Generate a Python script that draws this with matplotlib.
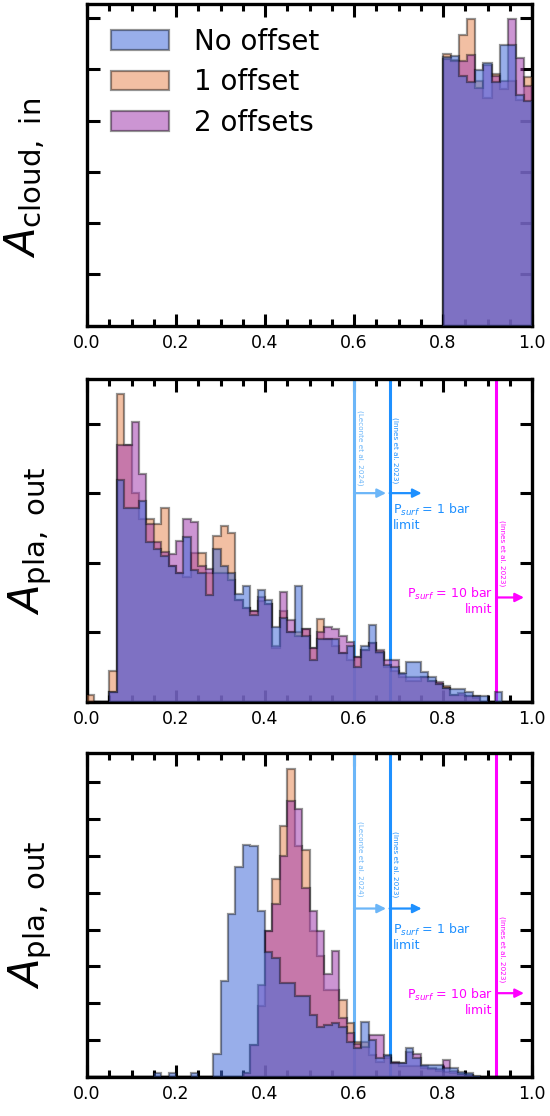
import numpy as np
import matplotlib
matplotlib.use("Agg")
import matplotlib.pyplot as plt
from matplotlib.patches import Patch
from matplotlib.colors import to_rgba

# ---------------- data ----------------
labels = ["No offset", "1 offset", "2 offsets"]

# A_cloud,in posterior (density), 11 bins over [0.8, 1.0]
cloud_edges = np.linspace(0.8, 1.0, 12)
cloud_no = [5.25, 5.27, 4.88, 4.75, 4.99, 5.12, 4.75, 5.48, 5.48, 4.51, 4.38]
cloud_one = [5.30, 5.19, 5.67, 5.98, 4.77, 4.44, 4.91, 4.61, 4.77, 4.41, 4.86]
cloud_two = [5.21, 5.16, 5.17, 5.28, 4.64, 5.09, 4.88, 4.77, 5.98, 5.23, 4.67]

# A_pla,out posteriors (density), 60 bins over [0, 1]
pla_edges = np.linspace(0.0, 1.0, 61)

pla1_no = [0, 0, 0, 0.14, 3.19, 2.79, 2.79, 2.89, 2.30, 2.20,
           2.10, 1.95, 1.85, 2.37, 1.90, 1.85, 1.54, 2.20, 1.95, 1.85,
           1.55, 1.67, 1.25, 1.61, 1.47, 1.08, 1.20, 1.00, 1.66, 0.95,
           0.60, 0.90, 0.90, 0.90, 0.70, 0.80, 0.50, 0.80, 1.10, 0.71,
           0.53, 0.50, 0.41, 0.57, 0.57, 0.43, 0.36, 0.25, 0.20, 0.19,
           0.19, 0.145, 0.08, 0.08, 0, 0.145, 0, 0, 0, 0]
pla1_one = [0.10, 0, 0, 0.44, 4.42, 3.69, 3.00, 2.63, 2.63, 2.55,
            2.78, 1.95, 1.85, 1.80, 2.14, 2.14, 1.85, 2.39, 2.53, 2.42,
            1.46, 1.35, 1.30, 1.45, 1.40, 0.77, 1.31, 1.00, 1.00, 1.05,
            0.77, 1.19, 0.90, 0.80, 0.70, 0.60, 0.65, 0.75, 0.85, 0.70,
            0.50, 0.45, 0.35, 0.30, 0.30, 0.35, 0.30, 0.25, 0.23, 0.10,
            0.10, 0.08, 0.05, 0, 0, 0, 0, 0, 0, 0]
pla1_two = [0, 0, 0, 0.14, 3.69, 3.69, 4.02, 3.28, 2.55, 2.30,
            2.15, 2.12, 2.31, 2.63, 2.58, 1.95, 1.91, 1.85, 1.85, 1.75,
            1.46, 1.35, 1.30, 1.50, 1.40, 0.80, 1.58, 1.17, 0.95, 1.05,
            0.77, 1.00, 1.07, 1.05, 0.95, 0.86, 0.65, 0.75, 0.85, 0.75,
            0.60, 0.60, 0.40, 0.35, 0.35, 0.35, 0.30, 0.29, 0.20, 0.10,
            0.12, 0.08, 0.08, 0, 0, 0, 0, 0, 0, 0]

pla2_no = [0, 0, 0, 0, 0, 0, 0, 0, 0, 0.10,
           0, 0.10, 0, 0, 0.10, 0, 0, 0.61, 2.59, 4.42,
           5.70, 6.31, 6.27, 4.50, 3.40, 3.23, 2.54, 2.54, 2.18, 2.18,
           1.68, 1.36, 1.40, 1.46, 1.36, 0.95, 0.77, 1.50, 1.00, 0.50,
           0.60, 0.36, 0.36, 0.77, 0.50, 0.32, 0.32, 0.32, 0.23, 0.23,
           0.13, 0.09, 0.03, 0, 0, 0, 0, 0, 0, 0]
pla2_one = [0, 0, 0, 0, 0, 0, 0, 0, 0, 0,
            0, 0, 0, 0, 0, 0, 0, 0, 0, 0,
            0, 0.10, 0.86, 1.93, 3.95, 5.36, 6.81, 8.37, 6.27, 6.17,
            3.95, 3.27, 2.36, 2.36, 2.09, 1.45, 0.95, 0.95, 0.60, 0.40,
            0.50, 0.36, 0.30, 0.30, 0.30, 0.25, 0.20, 0.15, 0.12, 0.10,
            0.08, 0.05, 0, 0, 0, 0, 0, 0, 0, 0]
pla2_two = [0, 0, 0, 0, 0, 0, 0, 0, 0, 0,
            0, 0, 0, 0, 0, 0, 0, 0, 0, 0,
            0, 0.10, 0.86, 2.50, 3.95, 4.68, 6.01, 7.49, 7.27, 5.13,
            4.50, 3.95, 2.80, 3.41, 1.60, 1.20, 0.90, 0.80, 1.14, 1.14,
            0.55, 0.40, 0.36, 0.68, 0.63, 0.30, 0.25, 0.20, 0.45, 0.15,
            0.08, 0.05, 0, 0, 0, 0, 0, 0, 0, 0]

# surface-pressure limits on A_pla,out
leconte_1bar = 0.60
innes_1bar = 0.68
innes_10bar = 0.92

# ---------------- style ----------------
face_alpha = 0.55
c_no = to_rgba("#446cd9", face_alpha)
c_one = to_rgba("#e98c58", face_alpha)
c_two = to_rgba("#a23eb0", face_alpha)
c_edge = (0.0, 0.0, 0.0, 0.42)
c_light = "#6cb6f8"
c_dodger = "dodgerblue"
c_mag = "#ff00ff"

fig = plt.figure(figsize=(5.5, 11.16), dpi=100)
W, H = 550.0, 1116.0
left, width = 87 / W, 445 / W
boxes = [(4, 325.5), (379, 701.8), (753.3, 1076.7)]
axes = [fig.add_axes([left, 1 - b / H, width, (b - t) / H]) for t, b in boxes]


def draw_hists(ax, edges, no, one, two):
    centers = edges[:-1]
    for vals, col in ((one, c_one), (two, c_two), (no, c_no)):
        ax.hist(centers, bins=edges, weights=vals, histtype="stepfilled",
                facecolor=col, edgecolor=c_edge, linewidth=1.6, zorder=3)


def style_axis(ax):
    ax.set_xlim(0, 1)
    ax.set_xticks(np.arange(0, 1.01, 0.2))
    ax.set_xticks(np.arange(0, 1.01, 0.05), minor=True)
    ax.tick_params(axis="both", which="major", direction="in", length=9,
                   width=2.2, top=True, right=True, labelsize=12.5, pad=6)
    ax.tick_params(axis="x", which="minor", direction="in", length=5,
                   width=2.2, top=True)
    ax.tick_params(axis="y", labelleft=False)
    for s in ax.spines.values():
        s.set_linewidth(2.4)


def limits(ax, y_arrow, y_text, y_mag, y_magtext, y_pl, y_mag_label):
    ax.axvline(leconte_1bar, color=c_light, lw=2.2, zorder=2)
    ax.axvline(innes_1bar, color=c_dodger, lw=2.2, zorder=2)
    ax.axvline(innes_10bar, color=c_mag, lw=2.2, zorder=2)
    ax.annotate("", xy=(0.672, y_arrow), xytext=(leconte_1bar, y_arrow),
                arrowprops=dict(arrowstyle="-|>", color=c_light, lw=1.6,
                                mutation_scale=13, shrinkA=0, shrinkB=0))
    ax.annotate("", xy=(0.752, y_arrow), xytext=(innes_1bar, y_arrow),
                arrowprops=dict(arrowstyle="-|>", color=c_dodger, lw=1.6,
                                mutation_scale=13, shrinkA=0, shrinkB=0))
    ax.annotate("", xy=(0.982, y_mag), xytext=(innes_10bar, y_mag),
                arrowprops=dict(arrowstyle="-|>", color=c_mag, lw=1.6,
                                mutation_scale=13, shrinkA=0, shrinkB=0))
    ax.text(leconte_1bar + 0.006, y_text[0], "(Leconte et al. 2024)",
            rotation=-90, fontsize=5.2, color=c_light, ha="left", va="top")
    ax.text(innes_1bar + 0.006, y_text[1], "(Innes et al. 2023)",
            rotation=-90, fontsize=5.2, color=c_dodger, ha="left", va="top")
    ax.text(innes_10bar + 0.006, y_magtext, "(Innes et al. 2023)",
            rotation=-90, fontsize=5.2, color=c_mag, ha="left", va="top")
    ax.text(innes_1bar + 0.007, y_pl, "P$_{surf}$ = 1 bar\nlimit",
            fontsize=9, color=c_dodger, ha="left", va="top",
            linespacing=1.1)
    ax.text(innes_10bar - 0.008, y_mag_label, "P$_{surf}$ = 10 bar\nlimit",
            fontsize=9, color=c_mag, ha="right", va="top",
            multialignment="right", linespacing=1.1)


ax0, ax1, ax2 = axes
draw_hists(ax0, cloud_edges, cloud_no, cloud_one, cloud_two)
draw_hists(ax1, pla_edges, pla1_no, pla1_one, pla1_two)
draw_hists(ax2, pla_edges, pla2_no, pla2_one, pla2_two)

for ax in axes:
    style_axis(ax)

ax0.set_ylabel(r"$A_{\mathrm{cloud,\ in}}$", fontsize=30, labelpad=24)
ax1.set_ylabel(r"$A_{\mathrm{pla,\ out}}$", fontsize=30, labelpad=24)
ax2.set_ylabel(r"$A_{\mathrm{pla,\ out}}$", fontsize=30, labelpad=24)
ax0.yaxis.set_label_coords(-0.09, 0.46)

limits(ax1, 3.0, (4.2, 4.1), 1.5, 2.61, 2.88, 1.66)
limits(ax2, 4.57, (6.95, 6.68), 2.27, 4.36, 4.2, 2.45)

handles = [Patch(facecolor=c, edgecolor=c_edge, linewidth=1.6)
           for c in (c_no, c_one, c_two)]
ax0.legend(handles, labels, loc="upper left", fontsize=20, frameon=False,
           handlelength=2.1, handleheight=0.72, handletextpad=0.9,
           labelspacing=0.45, borderaxespad=0.45)

fig.savefig("out.png", dpi=100)
